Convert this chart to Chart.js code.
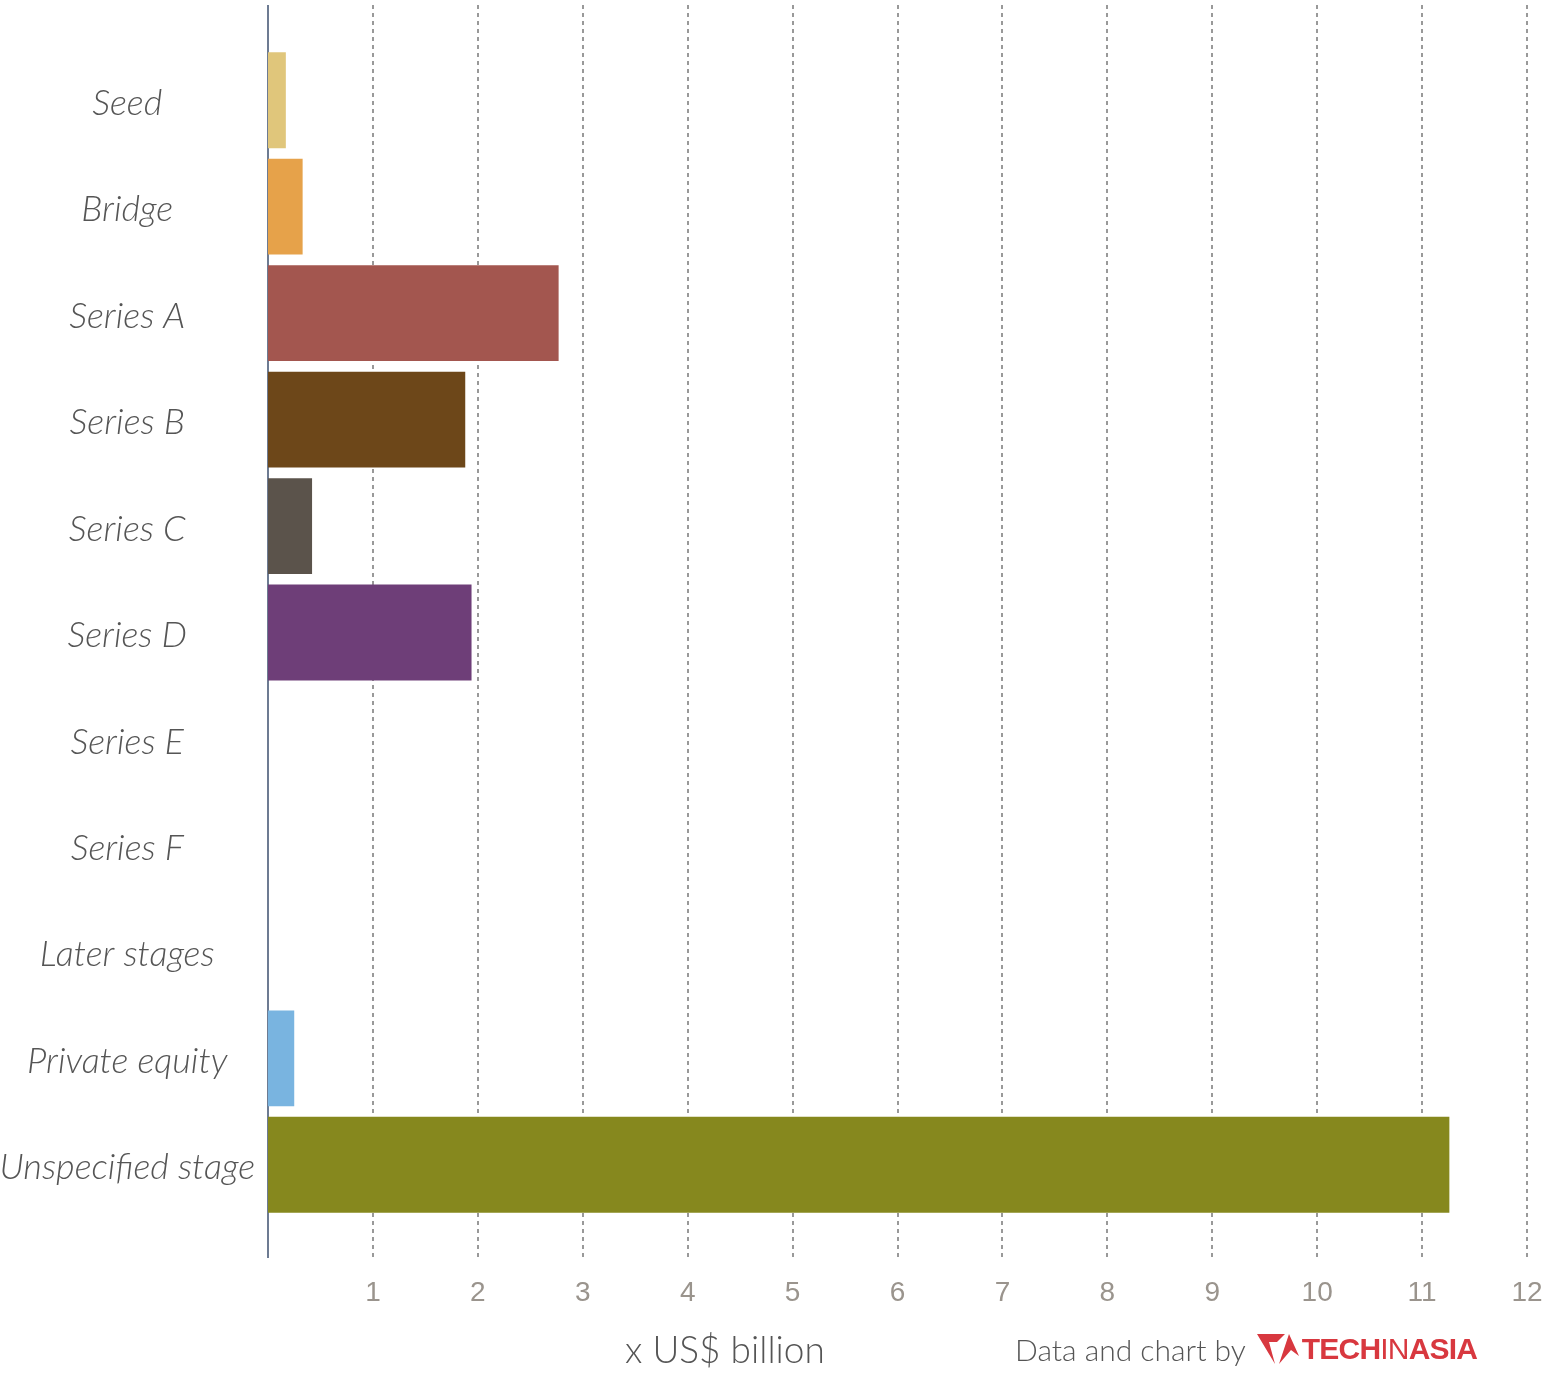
<!DOCTYPE html>
<html>
<head>
<meta charset="utf-8">
<script src="https://cdn.jsdelivr.net/npm/chart.js@4"></script>
<style>
  body { margin: 0; background: #fff; }
  #wrap { position: relative; width: 1550px; height: 1376px; }
  #chart { position: absolute; left: 0; top: 0; }
  .axisTitle { position: absolute; left: 625px; top: 1326px; font-family: Lato, sans-serif; font-weight: 300; font-size: 37px; color: #555; }
  .credit { position: absolute; left: 1015px; top: 1330px; font-family: Lato, sans-serif; font-weight: 300; font-size: 30px; color: #555; display: flex; align-items: center; }
  .logo { display: flex; align-items: center; margin-left: 8px; color: #d8383f; font-family: "Liberation Sans", Arial, sans-serif; font-size: 30px; letter-spacing: -0.8px; }
  .logo b { font-weight: 700; }
  .logo span { font-weight: 400; }
</style>
</head>
<body>
<div id="wrap">
  <canvas id="chart" width="1550" height="1376"></canvas>
  <div class="axisTitle">x US$ billion</div>
  <div class="credit">Data and chart by
    <div class="logo">
      <svg width="48" height="38" viewBox="0 0 46 38"><path d="M2 4 L30 4 L22 12 L14 12 L20 34 Z M24 34 L34 4 L44 26 L36 20 Z" fill="#d8383f"/></svg>
      <b>TECH</b><span>IN</span><b>ASIA</b>
    </div>
  </div>
</div>
<script>
'use strict';

let stages = ['Seed', 'Bridge', 'Series A', 'Series B', 'Series C', 'Series D', 'Series E', 'Series F', 'Later stages', 'Private equity', 'Unspecified stage'];
let amounts = [0.17, 0.33, 2.77, 1.88, 0.42, 1.94, 0, 0, 0, 0.25, 11.26];
let barColors = ['#e0c67b', '#e6a24a', '#a3564f', '#6d4719', '#5b534b', '#6e3e78', '#999999', '#999999', '#999999', '#79b4e0', '#86881e'];
let xTicks = [1, 2, 3, 4, 5, 6, 7, 8, 9, 10, 11, 12];

// dashed grid + axis line reaching a bit past the bars
const longGrid = {
    id: 'longGrid',
    beforeDatasetsDraw(chart) {
        const ctx = chart.ctx;
        const x = chart.scales.x;
        const top = 5, bottom = 1258;
        ctx.save();
        ctx.strokeStyle = '#999';
        ctx.lineWidth = 2;
        ctx.setLineDash([4, 4]);
        xTicks.forEach(t => {
            let px = Math.round(x.getPixelForValue(t));
            ctx.beginPath();
            ctx.moveTo(px, top);
            ctx.lineTo(px, bottom);
            ctx.stroke();
        });
        ctx.setLineDash([]);
        ctx.strokeStyle = '#3d4f6e';
        ctx.lineWidth = 1.5;
        let x0 = x.getPixelForValue(0);
        ctx.beginPath();
        ctx.moveTo(x0, top);
        ctx.lineTo(x0, bottom);
        ctx.stroke();
        ctx.restore();
    }
};

new Chart(document.getElementById('chart'), {
    type: 'bar',
    data: {
        labels: stages,
        datasets: [{
            data: amounts,
            backgroundColor: barColors,
            borderWidth: 0,
            barPercentage: 0.9,
            categoryPercentage: 1
        }]
    },
    options: {
        indexAxis: 'y',
        responsive: false,
        animation: false,
        layout: { padding: { top: 47, right: 23, bottom: 0, left: 0 } },
        plugins: { legend: { display: false }, tooltip: { enabled: false } },
        scales: {
            x: {
                min: 0,
                max: 12,
                afterBuildTicks: scale => { scale.ticks = xTicks.map(v => ({ value: v })); },
                afterFit: scale => {
                    scale.height = 158;
                    scale.paddingLeft = 0;
                    scale.paddingRight = 0;
                },
                grid: { display: false, drawTicks: false },
                border: { display: false },
                ticks: {
                    padding: 58,
                    maxRotation: 0,
                    color: '#9a948d',
                    font: { family: '"Liberation Sans", Arial, sans-serif', size: 28 }
                }
            },
            y: {
                afterFit: scale => { scale.width = 268; },
                grid: { display: false, drawTicks: false },
                border: { display: false },
                ticks: {
                    crossAlign: 'center',
                    padding: 13,
                    labelOffset: 3,
                    color: '#555',
                    font: { family: 'Lato, sans-serif', size: 36, style: 'italic', weight: 300 }
                }
            }
        }
    },
    plugins: [longGrid]
});
</script>
</body>
</html>
